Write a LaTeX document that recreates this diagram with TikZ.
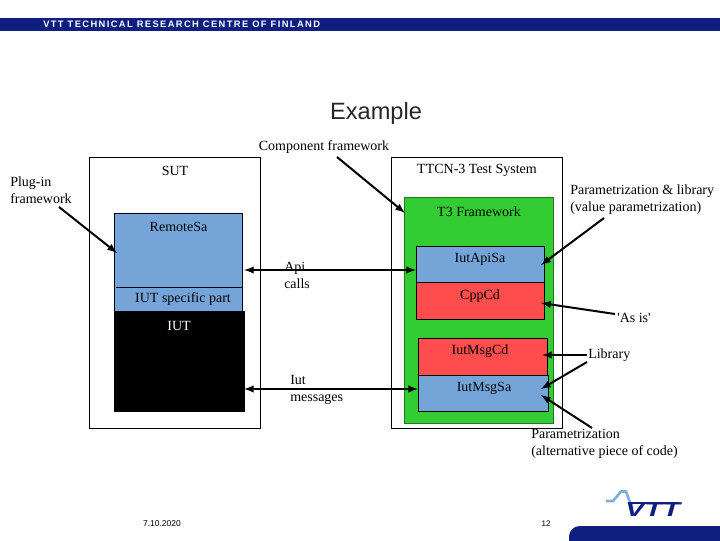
\documentclass[tikz,border=0pt]{standalone}
\usepackage{fontspec}
\setmainfont{Liberation Serif}
\newfontfamily\headfont[LetterSpace=15]{Liberation Sans}
\newfontfamily\slidefont{Liberation Sans}
\definecolor{vttnavy}{HTML}{0F1F80}
\definecolor{vttsky}{HTML}{7FB0DC}
\definecolor{sablue}{HTML}{75A5D8}
\definecolor{cdred}{HTML}{FF4D4D}
\definecolor{t3green}{HTML}{33CC33}
\def\px{0.75pt}
\tikzset{
  blockbox/.style={draw=black,line width=0.5pt,anchor=north west,inner sep=0pt},
  blocklabel/.style={inner sep=0pt,font=\fontsize{10.5}{12.75}\selectfont},
  notelabel/.style={blocklabel,anchor=west,align=left},
  callout/.style={-latex,line width=1.5pt},
  bothways/.style={latex-latex,line width=1.5pt}
}
\begin{document}
\begin{tikzpicture}[x=0.75pt,y=-0.75pt]
 \path[use as bounding box] (0,0) rectangle (720,540);

 % HEADER
 \fill[vttnavy] (0,18) rectangle (720,31);
 \node[inner sep=0pt,anchor=west,text=white,font=\headfont\fontsize{7}{8}\selectfont\bfseries] (header) at (43,24.5) {VTT TECHNICAL RESEARCH CENTRE OF FINLAND};
 \node[inner sep=0pt,text=black!85,font=\slidefont\fontsize{17.7}{20}\selectfont] (title) at (376,113) {Example};

 % SUT SIDE
 \node[blockbox,minimum width=171*\px,minimum height=271*\px] (sut) at (89,157) {};
 \node[blockbox,fill=sablue,minimum width=128*\px,minimum height=98*\px] (remotesa) at (114,213) {};
 \node[blockbox,draw=black,fill=black,minimum width=129.5*\px,minimum height=100*\px] (iut) at (114,311) {};
 \coordinate (splitl) at (116,287);
 \coordinate (splitr) at (242,287);
 \draw[line width=0.5pt] (splitl) -- (splitr);

 % TEST SYSTEM SIDE
 \node[blockbox,minimum width=171*\px,minimum height=271*\px] (ttcn) at (391,157) {};
 \node[blockbox,fill=t3green,draw=t3green!60!black,minimum width=149*\px,minimum height=226*\px] (t3) at (404,197) {};
 \node[blockbox,fill=sablue,minimum width=128*\px,minimum height=36*\px] (apisa) at (416,246) {};
 \node[blockbox,fill=cdred,minimum width=128*\px,minimum height=37*\px] (cppcd) at (416,282) {};
 \node[blockbox,fill=cdred,minimum width=129*\px,minimum height=37*\px] (msgcd) at (418,338) {};
 \node[blockbox,fill=sablue,minimum width=130*\px,minimum height=36*\px] (msgsa) at (418,375) {};

 % LABELS
 \node[blocklabel] (sutlabel) at (175,170.5) {SUT};
 \node[blocklabel] (remotelabel) at (178.5,226.5) {RemoteSa};
 \node[blocklabel] (specific) at (183,299.5) {IUT specific part};
 \node[blocklabel,text=white] (iutlabel) at (179,325.5) {IUT};
 \node[blocklabel] (ttcnlabel) at (477,170.5) {TTCN-3 Test System};
 \node[blocklabel] (t3label) at (479,211.5) {T3 Framework};
 \node[blocklabel] (apilabel) at (480,259.5) {IutApiSa};
 \node[blocklabel] (cpplabel) at (480,296.5) {CppCd};
 \node[blocklabel] (msgcdlabel) at (480,351.5) {IutMsgCd};
 \node[blocklabel] (msgsalabel) at (484,388.5) {IutMsgSa};

 % NOTES
 \node[blocklabel] (component) at (324,147.5) {Component framework};
 \node[notelabel] (plugin) at (10,190) {Plug-in\\framework};
 \node[notelabel] (apicalls) at (284,275) {Api\\calls};
 \node[notelabel] (iutmsgs) at (290,390) {Iut\\messages};
 \node[notelabel] (paramlib) at (570,200) {Parametrization \& library\\(value parametrization)};
 \node[notelabel] (asis) at (617,317.5) {\textquotesingle As is\textquotesingle};
 \node[notelabel] (library) at (588,355.5) {Library};
 \node[notelabel] (paramalt) at (531,444) {Parametrization\\(alternative piece of code)};

 % ARROWS
 \coordinate (pluginfrom) at (59,207);
 \coordinate (pluginto) at (117,253);
 \coordinate (compfrom) at (337,157);
 \coordinate (compto) at (405,213);
 \coordinate (apil) at (244,270);
 \coordinate (apir) at (416,270);
 \coordinate (msgl) at (244,389);
 \coordinate (msgr) at (418,389);
 \coordinate (libfrom) at (604,218);
 \coordinate (libto) at (541,265);
 \coordinate (asisfrom) at (615,314);
 \coordinate (asisto) at (541,303);
 \coordinate (libafrom) at (587,355);
 \coordinate (libato) at (542,355);
 \coordinate (libbfrom) at (587,362);
 \coordinate (libbto) at (541,389);
 \coordinate (altfrom) at (592,428);
 \coordinate (altto) at (541,395);

 \draw[callout] (pluginfrom) -- (pluginto);
 \draw[callout] (compfrom) -- (compto);
 \draw[bothways] (apil) -- (apir);
 \draw[bothways] (msgl) -- (msgr);
 \draw[callout] (libfrom) -- (libto);
 \draw[callout] (asisfrom) -- (asisto);
 \draw[callout] (libafrom) -- (libato);
 \draw[callout] (libbfrom) -- (libbto);
 \draw[callout] (altfrom) -- (altto);

 % FOOTER
 \node[inner sep=0pt,font=\slidefont\fontsize{6.4}{7}\selectfont] (date) at (162,524) {7.10.2020};
 \node[inner sep=0pt,font=\slidefont\fontsize{6}{7}\selectfont] (page) at (546,524) {12};

 % LOGO
 \draw[vttsky,line width=2pt,line join=round] (606,501) -- (613,501) -- (621,491.5) -- (626,491.5) -- (631,505);
 \node[inner sep=0pt,anchor=south west,text=vttnavy,font=\slidefont\fontsize{15}{15}\selectfont\bfseries\itshape] (vtt) at (625,516.5) {\scalebox{1.45}[1]{VTT}};
 \fill[vttnavy] (628,501.5) rectangle (679,503.5);
 \fill[vttnavy] (569,545) [rounded corners=8pt] -- (569,526) [sharp corners] -- (725,526) -- (725,545) -- cycle;
\end{tikzpicture}
\end{document}
